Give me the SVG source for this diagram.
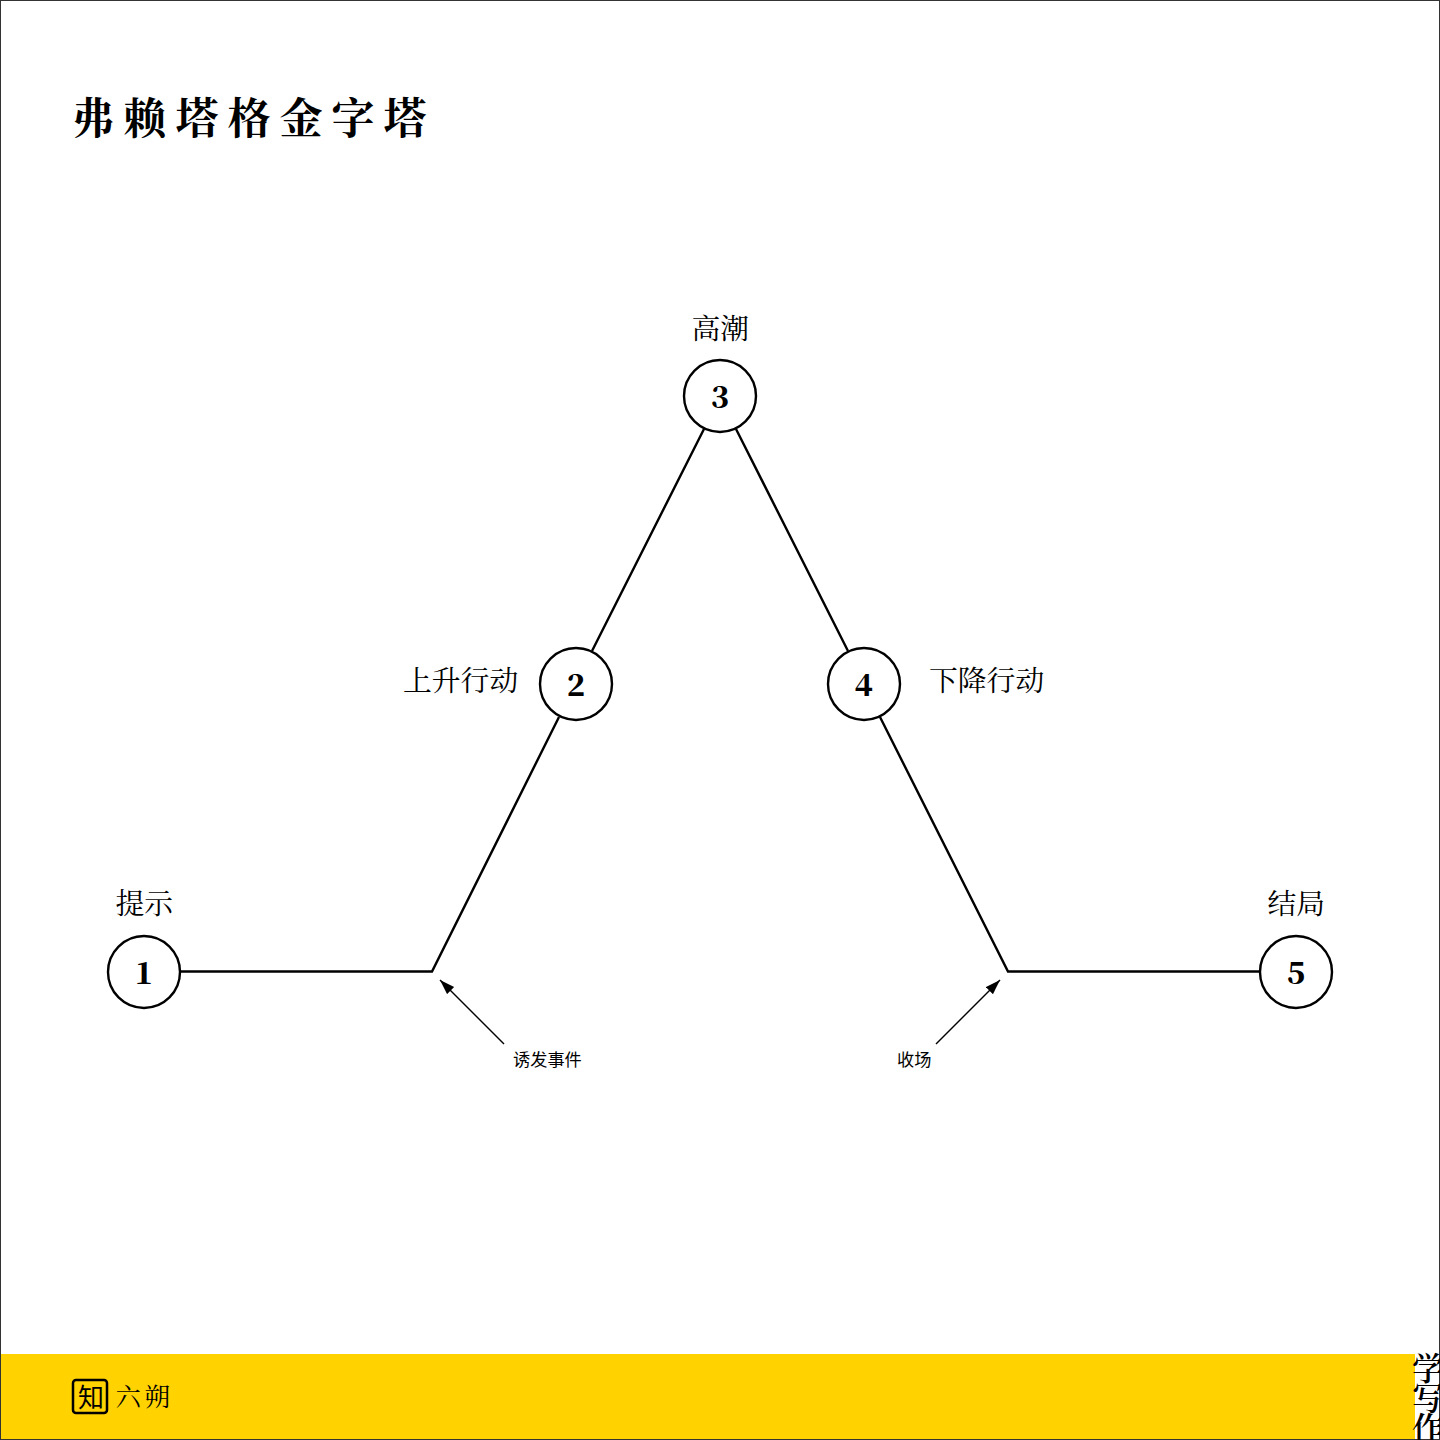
<svg xmlns="http://www.w3.org/2000/svg" width="1440" height="1440" viewBox="0 0 1440 1440">
<style>
text{font-family:"Noto Serif CJK SC","Liberation Serif","Noto Sans CJK SC",serif;fill:#000}
.n{fill:#fff;stroke:#000;stroke-width:2.4}
.num{font-weight:900;font-size:30px;text-anchor:middle}
.lab{font-size:28.8px}
.note{font-family:"Noto Sans CJK SC","Liberation Sans",sans-serif;font-size:17.2px}
.c{fill:none;stroke:#000;stroke-width:2.4}
.a{fill:none;stroke:#000;stroke-width:1.4;marker-end:url(#ah)}
</style>
<defs><marker id="ah" markerUnits="userSpaceOnUse" markerWidth="16" markerHeight="12" refX="15" refY="5" orient="auto"><path d="M0 0L15 5L0 10z" fill="#000"/></marker></defs>
<rect x="0" y="0" width="1440" height="1440" fill="#fff"/>
<rect x="0.5" y="0.5" width="1439" height="1439" fill="none" stroke="#333"/>
<text x="71.500" y="134" font-size="43" font-weight="700" letter-spacing="9">弗赖塔格金字塔</text>
<g id="connectors">
<path class="c" d="M180 971.500H432L559 717M592 651L704 429M736 429L848 651M880 717L1008 971.500H1260"/>
<path class="a" d="M504 1044L440 980"/>
<path class="a" d="M936 1044L1000 980"/>
</g>
<g id="node1"><circle class="n" cx="144" cy="972" r="36"/><text class="num" x="144" y="984">1</text><text class="lab" x="115.500" y="914">提示</text></g>
<g id="node2"><circle class="n" cx="576" cy="684" r="36"/><text class="num" x="576" y="696">2</text><text class="lab" x="403" y="691">上升行动</text></g>
<g id="node3"><circle class="n" cx="720" cy="396" r="36"/><text class="num" x="720" y="408">3</text><text class="lab" x="691.500" y="338.500">高潮</text></g>
<g id="node4"><circle class="n" cx="864" cy="684" r="36"/><text class="num" x="864" y="696">4</text><text class="lab" x="929" y="691">下降行动</text></g>
<g id="node5"><circle class="n" cx="1296" cy="972" r="36"/><text class="num" x="1296" y="984">5</text><text class="lab" x="1267.500" y="914">结局</text></g>
<text class="note" x="513" y="1066">诱发事件</text>
<text class="note" x="897" y="1066">收场</text>
<g id="footer">
<rect x="1" y="1354" width="1414" height="85" fill="#ffd200"/>
<rect x="73" y="1380" width="34" height="33" rx="3" fill="none" stroke="#000" stroke-width="2.500"/>
<text x="78" y="1407" font-size="26" style="font-family:'Noto Sans CJK SC',sans-serif">知</text>
<text x="115.500" y="1406" font-size="25.500" letter-spacing="3.500">六朔</text>
<text x="1412" y="1380" font-size="32" font-weight="600">学</text>
<text x="1412" y="1410" font-size="32" font-weight="600">写</text>
<text x="1412" y="1440" font-size="32" font-weight="600">作</text>
</g>
</svg>
